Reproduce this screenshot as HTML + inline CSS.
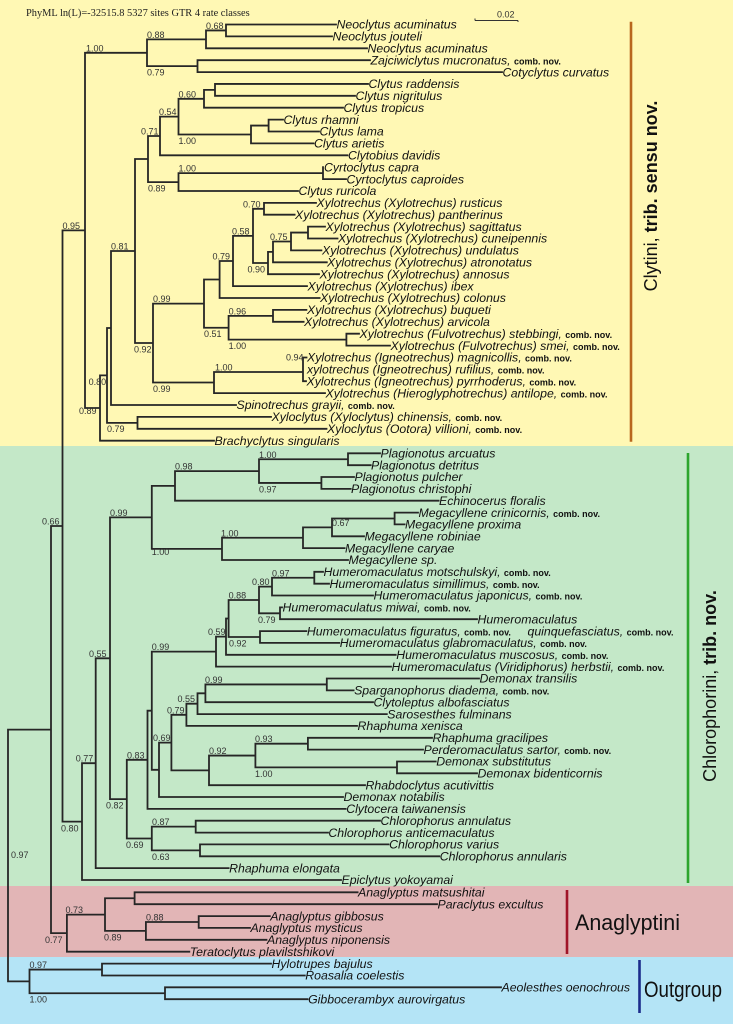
<!DOCTYPE html>
<html><head><meta charset="utf-8"><style>
html,body{margin:0;padding:0;background:#fff}
svg{display:block}
.sp{font-family:"Liberation Sans",Arial,sans-serif;font-style:italic;font-size:12.3px;fill:#111}
.cn{font-style:normal;font-weight:bold;font-size:9px}
.bs{font-family:"Liberation Sans",Arial,sans-serif;font-size:9px;fill:#333}
.big{font-family:"Liberation Sans",Arial,sans-serif;fill:#111}
</style></head><body>
<svg width="733" height="1024" viewBox="0 0 733 1024" xmlns="http://www.w3.org/2000/svg">
<rect x="0" y="0" width="733" height="446" fill="#FFF8B4"/>
<rect x="0" y="446" width="733" height="440" fill="#C4E8C8"/>
<rect x="0" y="886" width="733" height="71" fill="#E2B5B6"/>
<rect x="0" y="957" width="733" height="67" fill="#B4E4F6"/>

<text x="26" y="16" font-family="'Liberation Serif',serif" font-size="10.4" fill="#222">PhyML ln(L)=-32515.8 5327 sites GTR 4 rate classes</text>
<path d="M475 20.5H518 M475 18.5V20.5 M518 20.5V22" stroke="#333" stroke-width="1" fill="none"/>
<text x="497" y="17.5" class="bs">0.02</text>

<path fill="none" stroke="#262626" stroke-width="1.8" stroke-linecap="square" d="
M206 30.45H226 M226 24.5V36.4 M226 24.5H336 M226 36.4H332
M147 39.4H206 M206 30.45V48.3 M206 48.3H367
M147 66.15H197.5 M197.5 60.2V72.1 M197.5 60.2H370 M197.5 72.1H502
M147 39.4V66.15 M85 52.8H147
M204 89.9H215 M215 83.95V95.8 M215 83.95H368 M215 95.8H355
M178.5 98.8H204 M204 89.9V107.7 M204 107.7H343
M251 125.55H268.6 M268.6 119.6V131.5 M268.6 119.6H283 M268.6 131.5H319
M178.5 134.5H251 M251 125.55V143.4 M251 143.4H313.6
M160 116.65H178.5 M178.5 98.8V134.5
M160 116.65V155.3 M160 155.3H347.5
M148 136H160
M178.5 173.15H323 M323 167.2V179.1 M323 179.1H346
M178.5 173.15V191 M178.5 191H298
M148 182.1H178.5 M148 136V182.1 M135 159H148
M253 208.8H264 M264 202.9V214.7 M264 202.9H316 M264 214.7H294.6
M291 232.55H308 M308 226.6V238.5 M308 226.6H325 M308 238.5H337.5
M273 241.5H291 M291 232.55V250.4 M291 250.4H321.4
M268 251.9H273 M273 241.5V262.3 M273 262.3H326.8
M253 263H268 M268 251.9V274.2 M268 274.2H319
M233 235.9H253 M253 208.8V263
M219.6 261H233 M233 235.9V286.1 M233 286.1H307
M204 279.5H219.6 M219.6 261V298 M219.6 298H319.6
M228.6 315.85H273 M273 309.9V321.8 M273 309.9H306.4 M273 321.8H303.6
M228.6 339.65H346.4 M346.4 333.7V345.6 M346.4 333.7H359 M346.4 345.6H390
M204 327.75H228.6 M228.6 315.85V339.65
M153 303.6H204 M204 279.5V327.75
M303 357.5V381.2 M303 357.5H306.5 M303 381.2H306
M214 372H303 M214 372V393.1 M214 393.1H325
M153 382.5H214 M153 303.6V382.5 M135 343H153
M135 159V343 M111 251H135
M111 251V405 M111 405H236
M107 328H111
M137.5 416.9V428.8 M137.5 416.9H271 M137.5 428.8H326.5 M107 422.85H137.5
M107 328V422.85 M100 375.4H107
M100 375.4V440.7 M100 440.7H214
M85 408H100 M85 52.8V408 M62.5 230.4H85
M62.5 230.4V821.6 M51 526H62.5
M62.5 821.6H82 M82 763.2V880 M82 880H341
M82 763.2H95.7 M95.7 658.3V868.1 M95.7 868.1H228.6
M95.7 658.3H110 M110 517.4V799.15
M110 517.4H151.8 M151.8 485.9V548.9
M151.8 485.9H175 M175 471.1V500.7 M175 500.7H438.6
M175 471.1H259 M259 459.25V482.95
M259 459.25H348 M348 453.3V465.2 M348 453.3H380 M348 465.2H370.7
M259 482.95H321.4 M321.4 477V488.9 M321.4 477H354 M321.4 488.9H350.7
M151.8 548.9H222 M222 537.75V560 M222 560H348
M222 537.75H303 M303 527.4V548.1 M303 548.1H344.6
M303 527.4H332 M332 518.5V536.3 M332 536.3H364
M332 518.5H394.6 M394.6 512.6V524.4 M394.6 512.6H418 M394.6 524.4H404.6
M272 577.75H314.3 M314.3 571.8V583.7 M314.3 571.8H323 M314.3 583.7H329
M259 586.6H272 M272 577.75V595.5 M272 595.5H373
M259 613.3H280 M280 607.4V619.2 M280 607.4H282 M280 619.2H477
M228.6 600H259 M259 586.6V613.3
M228.6 637H260 M260 631.1V642.9 M260 631.1H306.4 M260 642.9H339.3
M226 618.5H228.6 M228.6 600V637
M216 636.65H226 M226 618.5V654.8 M226 654.8H395.7
M151.8 651.6H216 M216 636.65V666.6 M216 666.6H391
M151.8 651.6V769.8 M147.5 710.7H151.8
M151.8 769.8H159 M159 742.6V797 M159 797H343
M159 742.6H171.4 M171.4 714.8V770.4
M171.4 714.8H186.4 M186.4 703.7V725.9 M186.4 725.9H357
M186.4 703.7H197.5 M197.5 693.3V714.1 M197.5 714.1H386.8
M197.5 693.3H205.4 M205.4 684.45V702.2 M205.4 702.2H373
M205.4 684.45H326.8 M326.8 678.5V690.4 M326.8 678.5H479 M326.8 690.4H353.6
M171.4 770.4H209 M209 755.55V785.2 M209 785.2H365
M209 755.55H255.4 M255.4 743.7V767.4
M255.4 743.7H307.9 M307.9 737.8V749.6 M307.9 737.8H432 M307.9 749.6H423
M255.4 767.4H397 M397 761.5V773.3 M397 761.5H435.7 M397 773.3H477
M147.5 710.7V808.9 M147.5 808.9H345.7 M126.8 759.8H147.5
M110 799.15H126.8 M126.8 759.8V838.5
M126.8 838.5H151.8 M151.8 826.65V850.35
M151.8 826.65H195.7 M195.7 820.7V832.6 M195.7 820.7H380 M195.7 832.6H328
M151.8 850.35H200 M200 844.4V856.3 M200 844.4H388.6 M200 856.3H439.3
M51 526V933.15 M8 729.6H51
M51 933.15H66.9 M66.9 914.6V951.7 M66.9 951.7H189.3
M66.9 914.6H105 M105 898.25V930.9
M105 898.25H134.6 M134.6 892.3V904.2 M134.6 892.3H357.6 M134.6 904.2H437
M105 930.9H145.9 M145.9 922V939.8 M145.9 939.8H266.5
M145.9 922H198.7 M198.7 916.1V927.9 M198.7 916.1H269.8 M198.7 927.9H250
M8 729.6V981.4 M8 981.4H29.5 M29.5 969.55V993.25
M29.5 969.55H102 M102 963.6V975.5 M102 963.6H271 M102 975.5H304.8
M29.5 993.25H165 M165 987.3V999.2 M165 987.3H501 M165 999.2H307.6
"/>

<g class="sp">
<text x="336.5" y="28.7">Neoclytus acuminatus</text>
<text x="332.5" y="40.6">Neoclytus jouteli</text>
<text x="367.5" y="52.5">Neoclytus acuminatus</text>
<text x="370.5" y="64.4">Zajciwiclytus mucronatus, <tspan class="cn">comb. nov.</tspan></text>
<text x="502.5" y="76.3">Cotyclytus curvatus</text>
<text x="368.5" y="88.1">Clytus raddensis</text>
<text x="355.5" y="100">Clytus nigritulus</text>
<text x="343.5" y="111.9">Clytus tropicus</text>
<text x="283.5" y="123.8">Clytus rhamni</text>
<text x="319.5" y="135.7">Clytus lama</text>
<text x="314" y="147.6">Clytus arietis</text>
<text x="348" y="159.5">Clytobius davidis</text>
<text x="324" y="171.4">Cyrtoclytus capra</text>
<text x="346.5" y="183.3">Cyrtoclytus caproides</text>
<text x="298.5" y="195.2">Clytus ruricola</text>
<text x="316.5" y="207.1">Xylotrechus (Xylotrechus) rusticus</text>
<text x="295" y="218.9">Xylotrechus (Xylotrechus) pantherinus</text>
<text x="325.5" y="230.8">Xylotrechus (Xylotrechus) sagittatus</text>
<text x="338" y="242.7">Xylotrechus (Xylotrechus) cuneipennis</text>
<text x="322" y="254.6">Xylotrechus (Xylotrechus) undulatus</text>
<text x="327" y="266.5">Xylotrechus (Xylotrechus) atronotatus</text>
<text x="319.5" y="278.4">Xylotrechus (Xylotrechus) annosus</text>
<text x="307.5" y="290.3">Xylotrechus (Xylotrechus) ibex</text>
<text x="320" y="302.2">Xylotrechus (Xylotrechus) colonus</text>
<text x="307" y="314.1">Xylotrechus (Xylotrechus) buqueti</text>
<text x="304" y="326">Xylotrechus (Xylotrechus) arvicola</text>
<text x="359.5" y="337.9">Xylotrechus (Fulvotrechus) stebbingi, <tspan class="cn">comb. nov.</tspan></text>
<text x="390.5" y="349.8">Xylotrechus (Fulvotrechus) smei, <tspan class="cn">comb. nov.</tspan></text>
<text x="307" y="361.7">Xylotrechus (Igneotrechus) magnicollis, <tspan class="cn">comb. nov.</tspan></text>
<text x="307" y="373.6">xylotrechus (Igneotrechus) rufilius, <tspan class="cn">comb. nov.</tspan></text>
<text x="306.5" y="385.4">Xylotrechus (Igneotrechus) pyrrhoderus, <tspan class="cn">comb. nov.</tspan></text>
<text x="325.5" y="397.3">Xylotrechus (Hieroglyphotrechus) antilope, <tspan class="cn">comb. nov.</tspan></text>
<text x="236.5" y="409.2">Spinotrechus grayii, <tspan class="cn">comb. nov.</tspan></text>
<text x="271.5" y="421.1">Xyloclytus (Xyloclytus) chinensis, <tspan class="cn">comb. nov.</tspan></text>
<text x="327" y="433">Xyloclytus (Ootora) villioni, <tspan class="cn">comb. nov.</tspan></text>
<text x="214.5" y="444.9">Brachyclytus singularis</text>

<text x="380.5" y="457.5">Plagionotus arcuatus</text>
<text x="371" y="469.4">Plagionotus detritus</text>
<text x="354.5" y="481.2">Plagionotus pulcher</text>
<text x="351" y="493.1">Plagionotus christophi</text>
<text x="439" y="504.9">Echinocerus floralis</text>
<text x="418.5" y="516.8">Megacyllene crinicornis, <tspan class="cn">comb. nov.</tspan></text>
<text x="405" y="528.6">Megacyllene proxima</text>
<text x="364.5" y="540.5">Megacyllene robiniae</text>
<text x="345" y="552.3">Megacyllene caryae</text>
<text x="348.5" y="564.2">Megacyllene sp.</text>
<text x="323.5" y="576">Humeromaculatus motschulskyi, <tspan class="cn">comb. nov.</tspan></text>
<text x="329.5" y="587.9">Humeromaculatus simillimus, <tspan class="cn">comb. nov.</tspan></text>
<text x="373.5" y="599.7">Humeromaculatus japonicus, <tspan class="cn">comb. nov.</tspan></text>
<text x="282.5" y="611.6">Humeromaculatus miwai, <tspan class="cn">comb. nov.</tspan></text>
<text x="477.5" y="623.4">Humeromaculatus</text>
<text x="527.5" y="635.3">quinquefasciatus, <tspan class="cn">comb. nov.</tspan></text>
<text x="306.9" y="635.3">Humeromaculatus figuratus, <tspan class="cn">comb. nov.</tspan></text>
<text x="339.8" y="647.1">Humeromaculatus glabromaculatus, <tspan class="cn">comb. nov.</tspan></text>
<text x="396.2" y="659">Humeromaculatus muscosus, <tspan class="cn">comb. nov.</tspan></text>
<text x="391.5" y="670.8">Humeromaculatus (Viridiphorus) herbstii, <tspan class="cn">comb. nov.</tspan></text>
<text x="479.5" y="682.7">Demonax transilis</text>
<text x="354.1" y="694.6">Sparganophorus diadema, <tspan class="cn">comb. nov.</tspan></text>
<text x="373.5" y="706.4">Clytoleptus albofasciatus</text>
<text x="387.3" y="718.3">Sarosesthes fulminans</text>
<text x="357.5" y="730.1">Rhaphuma xenisca</text>
<text x="432.5" y="742">Rhaphuma gracilipes</text>
<text x="423.5" y="753.8">Perderomaculatus sartor, <tspan class="cn">comb. nov.</tspan></text>
<text x="436.2" y="765.7">Demonax substitutus</text>
<text x="477.5" y="777.5">Demonax bidenticornis</text>
<text x="365.5" y="789.4">Rhabdoclytus acutivittis</text>
<text x="343.5" y="801.2">Demonax notabilis</text>
<text x="346.2" y="813.1">Clytocera taiwanensis</text>
<text x="380.5" y="824.9">Chlorophorus annulatus</text>
<text x="328.4" y="836.8">Chlorophorus anticemaculatus</text>
<text x="389.1" y="848.6">Chlorophorus varius</text>
<text x="439.8" y="860.5">Chlorophorus annularis</text>
<text x="229.1" y="872.3">Rhaphuma elongata</text>
<text x="341.5" y="884.2">Epiclytus yokoyamai</text>

<text x="358" y="896.5">Anaglyptus matsushitai</text>
<text x="437.5" y="908.4">Paraclytus excultus</text>
<text x="270.3" y="920.3">Anaglyptus gibbosus</text>
<text x="250.5" y="932.1">Anaglyptus mysticus</text>
<text x="267" y="944">Anaglyptus niponensis</text>
<text x="189.8" y="955.9">Teratoclytus plavilstshikovi</text>
<text x="271.5" y="967.8">Hylotrupes bajulus</text>
<text x="305.3" y="979.7">Roasalia coelestis</text>
<text x="501.5" y="991.5">Aeolesthes oenochrous</text>
<text x="308.1" y="1003.4">Gibbocerambyx aurovirgatus</text>
</g>

<g class="bs">
<text x="206" y="29">0.68</text>
<text x="147" y="37.9">0.88</text>
<text x="147" y="75.5">0.79</text>
<text x="86" y="51.3">1.00</text>
<text x="178.5" y="97.3">0.60</text>
<text x="178.5" y="143.9">1.00</text>
<text x="159" y="115.1">0.54</text>
<text x="141" y="134.5">0.71</text>
<text x="178.5" y="171.6">1.00</text>
<text x="148" y="191.5">0.89</text>
<text x="243" y="207.3">0.70</text>
<text x="270" y="240">0.75</text>
<text x="247.5" y="272.4">0.90</text>
<text x="232" y="234.4">0.58</text>
<text x="212.5" y="259.5">0.79</text>
<text x="153" y="302.1">0.99</text>
<text x="228.6" y="314.3">0.96</text>
<text x="204" y="337.2">0.51</text>
<text x="228.6" y="349">1.00</text>
<text x="286" y="360.5">0.94</text>
<text x="215" y="370.5">1.00</text>
<text x="153" y="392">0.99</text>
<text x="134" y="352.5">0.92</text>
<text x="111" y="249.5">0.81</text>
<text x="88.6" y="385">0.80</text>
<text x="107" y="432">0.79</text>
<text x="79" y="414">0.89</text>
<text x="62.5" y="228.9">0.95</text>
<text x="42" y="524.5">0.66</text>
<text x="61" y="831.5">0.80</text>
<text x="75.7" y="761.7">0.77</text>
<text x="89" y="656.8">0.55</text>
<text x="110" y="515.9">0.99</text>
<text x="175" y="469.6">0.98</text>
<text x="259" y="457.8">1.00</text>
<text x="259" y="492.4">0.97</text>
<text x="151.8" y="555">1.00</text>
<text x="221" y="536.3">1.00</text>
<text x="332" y="525.9">0.67</text>
<text x="272" y="576.3">0.97</text>
<text x="252" y="585">0.80</text>
<text x="228.6" y="598.5">0.88</text>
<text x="258" y="622.8">0.79</text>
<text x="208" y="635.2">0.59</text>
<text x="229" y="646.5">0.92</text>
<text x="151.8" y="650.1">0.99</text>
<text x="205" y="683">0.99</text>
<text x="177.5" y="702.2">0.55</text>
<text x="167" y="713.3">0.79</text>
<text x="153" y="741.1">0.69</text>
<text x="255" y="742.2">0.93</text>
<text x="209" y="754">0.92</text>
<text x="255" y="776.9">1.00</text>
<text x="127" y="758.3">0.83</text>
<text x="106" y="808.6">0.82</text>
<text x="152" y="825.1">0.87</text>
<text x="126" y="848">0.69</text>
<text x="152" y="859.8">0.63</text>
<text x="11" y="858">0.97</text>
<text x="65.5" y="913.1">0.73</text>
<text x="104" y="940.4">0.89</text>
<text x="146" y="920.5">0.88</text>
<text x="45" y="943">0.77</text>
<text x="29.5" y="968">0.97</text>
<text x="29.5" y="1002.7">1.00</text>
</g>

<line x1="631" y1="21.7" x2="631" y2="441.7" stroke="#B8671E" stroke-width="2.6"/>
<line x1="688" y1="453" x2="688" y2="883" stroke="#2DA52D" stroke-width="2.6"/>
<line x1="567" y1="890" x2="567" y2="954" stroke="#A01428" stroke-width="2.6"/>
<line x1="639.5" y1="960" x2="639.5" y2="1013" stroke="#1C2C8C" stroke-width="2.6"/>

<text class="big" font-size="18" text-anchor="middle" transform="translate(657,196) rotate(-90)">Clytini, <tspan font-weight="bold">trib. sensu nov.</tspan></text>
<text class="big" font-size="18" text-anchor="middle" transform="translate(716,686) rotate(-90)">Chlorophorini, <tspan font-weight="bold">trib. nov.</tspan></text>
<text class="big" x="575" y="930" font-size="22" textLength="105" lengthAdjust="spacingAndGlyphs">Anaglyptini</text>
<text class="big" x="644" y="997" font-size="22" textLength="78" lengthAdjust="spacingAndGlyphs">Outgroup</text>
</svg>
</body></html>
